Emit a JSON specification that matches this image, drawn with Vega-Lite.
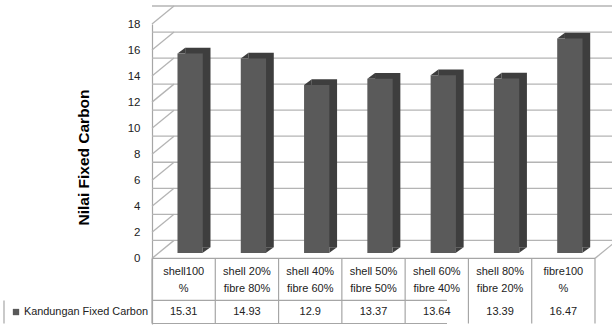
{
  "$schema": "https://vega.github.io/schema/vega-lite/v6.json",
  "autosize": "none",
  "width": 443,
  "height": 300,
  "padding": {"left": 152, "top": 24, "right": 17, "bottom": 1},
  "background": "white",
  "config": {"view": {"stroke": null}, "font": "Liberation Sans"},
  "datasets": {
    "fc": [
      {"cat": "shell100\n%", "value": 15.31},
      {"cat": "shell 20%\nfibre 80%", "value": 14.93},
      {"cat": "shell 40%\nfibre 60%", "value": 12.9},
      {"cat": "shell 50%\nfibre 50%", "value": 13.37},
      {"cat": "shell 60%\nfibre 40%", "value": 13.64},
      {"cat": "shell 80%\nfibre 20%", "value": 13.39},
      {"cat": "fibre100\n%", "value": 16.47}
    ],
    "grid": [
      {"v": 0}, {"v": 2}, {"v": 4}, {"v": 6}, {"v": 8},
      {"v": 10}, {"v": 12}, {"v": 14}, {"v": 16}, {"v": 18}
    ],
    "one": [{}]
  },
  "data": {"name": "fc"},
  "encoding": {
    "x": {"field": "cat", "type": "nominal", "sort": null, "axis": null,
          "scale": {"domain": ["shell100\n%", "shell 20%\nfibre 80%", "shell 40%\nfibre 60%", "shell 50%\nfibre 50%",
                               "shell 60%\nfibre 40%", "shell 80%\nfibre 20%", "fibre100\n%"],
                    "paddingInner": 0, "paddingOuter": 0}},
    "y": {"type": "quantitative", "scale": {"domain": [-5.04, 18], "nice": false, "zero": false},
          "axis": {"values": [0, 2, 4, 6, 8, 10, 12, 14, 16, 18], "grid": false, "ticks": false,
                   "labelOverlap": false, "labelBound": false,
                   "domain": true, "domainColor": "#a6a6a6", "domainWidth": 1.2,
                   "labelFont": "Liberation Sans", "labelFontSize": 11.5, "labelColor": "#222222",
                   "labelPadding": 12,
                   "title": "Nilai Fixed Carbon", "titleFont": "Liberation Sans", "titleFontSize": 15.5,
                   "titleFontWeight": "bold", "titleColor": "#000000", "titlePadding": 36, "titleY": 133}}
  },
  "layer": [
    {
      "data": {"name": "grid"},
      "mark": {"type": "rule", "color": "#b4b4b4", "strokeWidth": 1.3, "xOffset": 22, "x2Offset": 40, "yOffset": -18},
      "encoding": {
        "x": null,
        "y": {"field": "v", "type": "quantitative"}
      }
    },
    {
      "data": {"name": "grid"},
      "mark": {"type": "point", "shape": "M-1,0.818L1,-0.818", "size": 484, "filled": false,
               "stroke": "#b4b4b4", "strokeWidth": 1.3, "xOffset": 11, "yOffset": -9, "opacity": 1},
      "encoding": {
        "x": {"datum": "shell100\n%", "bandPosition": 0},
        "y": {"field": "v", "type": "quantitative"}
      }
    },
    {
      "data": {"name": "one"},
      "mark": {"type": "point", "shape": "M-1,0.818L1,-0.818", "size": 484, "filled": false,
               "stroke": "#b4b4b4", "strokeWidth": 1.3, "xOffset": 11, "yOffset": -9, "opacity": 1},
      "encoding": {
        "x": {"datum": "fibre100\n%", "bandPosition": 1},
        "y": {"datum": 0}
      }
    },
    {
      "data": {"name": "one"},
      "mark": {"type": "rule", "color": "#a6a6a6", "strokeWidth": 1.2},
      "encoding": {"x": null, "y": {"datum": 0}}
    },
    {
      "data": {"name": "one"},
      "mark": {"type": "rule", "color": "#a6a6a6", "strokeWidth": 1.2, "xOffset": -148},
      "encoding": {"x": null, "y": {"datum": -3.23}}
    },
    {
      "data": {"name": "one"},
      "mark": {"type": "rule", "color": "#a6a6a6", "strokeWidth": 1.2, "xOffset": -148},
      "encoding": {"x": null, "y": {"datum": -5.0}}
    },
    {
      "mark": {"type": "rule", "color": "#a6a6a6", "strokeWidth": 1.2},
      "encoding": {
        "x": {"field": "cat", "type": "nominal", "sort": null, "bandPosition": 0},
        "y": {"datum": 0},
        "y2": {"datum": -5.0}
      }
    },
    {
      "data": {"name": "one"},
      "mark": {"type": "rule", "color": "#a6a6a6", "strokeWidth": 1.2},
      "encoding": {
        "x": {"datum": "fibre100\n%", "bandPosition": 1},
        "y": {"datum": 0},
        "y2": {"datum": -5.0}
      }
    },
    {
      "data": {"name": "one"},
      "mark": {"type": "rule", "color": "#a6a6a6", "strokeWidth": 1.2, "xOffset": -148},
      "encoding": {
        "x": {"datum": "shell100\n%", "bandPosition": 0},
        "y": {"datum": -3.23},
        "y2": {"datum": -5.0}
      }
    },
    {
      "mark": {"type": "bar", "color": "#3e3e3e", "width": {"band": 0.4},
               "xOffset": 14.2, "x2Offset": 14.2, "yOffset": -11.2, "y2Offset": -11.2},
      "encoding": {
        "y": {"field": "value", "type": "quantitative"},
        "y2": {"datum": 0}
      }
    },
    {
      "mark": {"type": "point", "shape": "M-1,0.74L1,-0.74L1,0.74Z", "size": 59.3, "filled": true,
               "color": "#3e3e3e", "opacity": 1, "xOffset": -2.3, "yOffset": -8.35},
      "encoding": {
        "y": {"field": "value", "type": "quantitative"}
      }
    },
    {
      "mark": {"type": "point", "shape": "M-1,0.74L-1,-0.74L1,-0.74Z", "size": 59.3, "filled": true,
               "color": "#3e3e3e", "opacity": 1, "xOffset": 23, "yOffset": -8.35},
      "encoding": {
        "y": {"datum": 0}
      }
    },
    {
      "mark": {"type": "bar", "color": "#5a5a5a", "width": {"band": 0.4},
               "xOffset": 6.5, "x2Offset": 6.5, "yOffset": -5.5, "y2Offset": -5.5},
      "encoding": {
        "y": {"field": "value", "type": "quantitative"},
        "y2": {"datum": 0}
      }
    },
    {
      "mark": {"type": "text", "fontSize": 11, "color": "#222222", "lineBreak": "\n", "lineHeight": 17,
               "baseline": "middle", "dy": -7},
      "encoding": {
        "y": {"datum": -1.615},
        "text": {"field": "cat", "type": "nominal"}
      }
    },
    {
      "mark": {"type": "text", "fontSize": 11, "color": "#222222", "baseline": "middle"},
      "encoding": {
        "y": {"datum": -4.12},
        "text": {"field": "value", "type": "nominal"}
      }
    },
    {
      "data": {"name": "one"},
      "mark": {"type": "point", "shape": "square", "size": 40, "filled": true, "color": "#595959",
               "opacity": 1, "xOffset": -136},
      "encoding": {
        "x": {"datum": "shell100\n%", "bandPosition": 0},
        "y": {"datum": -4.12}
      }
    },
    {
      "data": {"name": "one"},
      "mark": {"type": "text", "text": "Kandungan Fixed Carbon", "fontSize": 10.9, "color": "#222222",
               "align": "right", "baseline": "middle", "xOffset": -4},
      "encoding": {
        "x": {"datum": "shell100\n%", "bandPosition": 0},
        "y": {"datum": -4.12}
      }
    }
  ]
}
